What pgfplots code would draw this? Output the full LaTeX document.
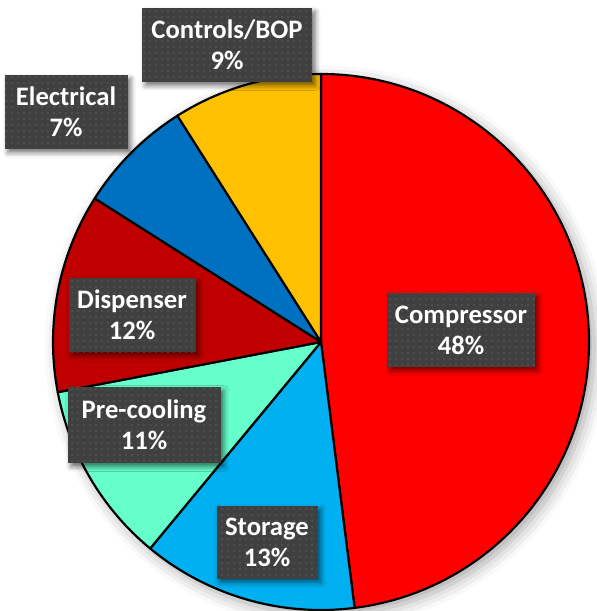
\documentclass[border=0pt]{standalone}
\usepackage{pgfplots}
\pgfplotsset{compat=1.18}
\usepackage{pgfplotstable}
\usepackage{fontspec}
\usepackage{etoolbox}
\usetikzlibrary{shadows.blur,patterns.meta}
\newfontfamily\lblfont{Carlito}
\definecolor{cComp}{HTML}{FF0000}
\definecolor{cStor}{HTML}{00B0F0}
\definecolor{cPre}{HTML}{66FFCC}
\definecolor{cDisp}{HTML}{C00000}
\definecolor{cElec}{HTML}{0070C0}
\definecolor{cCtrl}{HTML}{FFC000}
\definecolor{boxfill}{HTML}{404040}
\definecolor{boxdot}{HTML}{5C5C5C}
\tikzset{lbl/.style={fill=boxfill, text=white, align=center, inner sep=0pt,
  font=\lblfont\bfseries\fontsize{16}{18.6}\selectfont,
  blur shadow={shadow xshift=2pt, shadow yshift=-2.2pt, shadow blur radius=3pt, shadow opacity=55},
  postaction={pattern={Dots[distance=3.6pt, radius=0.5pt]}, pattern color=boxdot}}}
\pgfplotstableread{
name value lx ly w h col
Compressor 48 461 330 148 74 cComp
Storage 13 267 542 101 73 cStor
Pre-cooling 11 144 425 153 76 cPre
Dispenser 12 132 315 127 74 cDisp
Electrical 7 66 112 123 74 cElec
Controls/BOP 9 227 45 170 74 cCtrl
}\piedata
\def\R{160.8pt}
\def\slicecmds{}
\def\labelcmds{}
\xdef\curang{90}
\pgfplotstablegetrowsof{\piedata}
\pgfmathtruncatemacro\nrows{\pgfplotsretval-1}
\foreach \i in {0,...,\nrows}{%
  \pgfplotstablegetelem{\i}{value}\of\piedata \let\pv\pgfplotsretval
  \pgfplotstablegetelem{\i}{name}\of\piedata \let\pname\pgfplotsretval
  \pgfplotstablegetelem{\i}{lx}\of\piedata \let\plx\pgfplotsretval
  \pgfplotstablegetelem{\i}{ly}\of\piedata \let\ply\pgfplotsretval
  \pgfplotstablegetelem{\i}{w}\of\piedata \let\pw\pgfplotsretval
  \pgfplotstablegetelem{\i}{h}\of\piedata \let\ph\pgfplotsretval
  \pgfplotstablegetelem{\i}{col}\of\piedata \let\pcol\pgfplotsretval
  \pgfmathsetmacro\endang{\curang-3.6*\pv}%
  \pgfmathtruncatemacro\pvi{\pv}%
  \xappto\slicecmds{\noexpand\fill[fill=\pcol, draw=black, line width=1.3pt, line join=round]
     (axis cs:321,342) -- ++(\curang:\R) arc[start angle=\curang, end angle=\endang, radius=\R] -- cycle;}%
  \xappto\labelcmds{\noexpand\node[lbl, minimum width=\pw*0.6pt, minimum height=\ph*0.6pt]
     at (axis cs:\plx,\ply) {\pname\noexpand\\\pvi\noexpand\%};}%
  \xdef\curang{\endang}%
}
\begin{document}%
\begin{tikzpicture}
\begin{axis}[width=357.6pt, height=366.6pt, scale only axis, y dir=reverse,
  xmin=0, xmax=596, ymin=0, ymax=611, hide axis, clip=false]
\fill[white, blur shadow={shadow xshift=3pt, shadow yshift=-3pt, shadow blur radius=8pt, shadow opacity=35}]
  (axis cs:321,342) circle[radius=\R];
\slicecmds
\labelcmds
\end{axis}
\pgfresetboundingbox
\useasboundingbox (current axis.south west) rectangle (current axis.north east);
\end{tikzpicture}%
\end{document}
